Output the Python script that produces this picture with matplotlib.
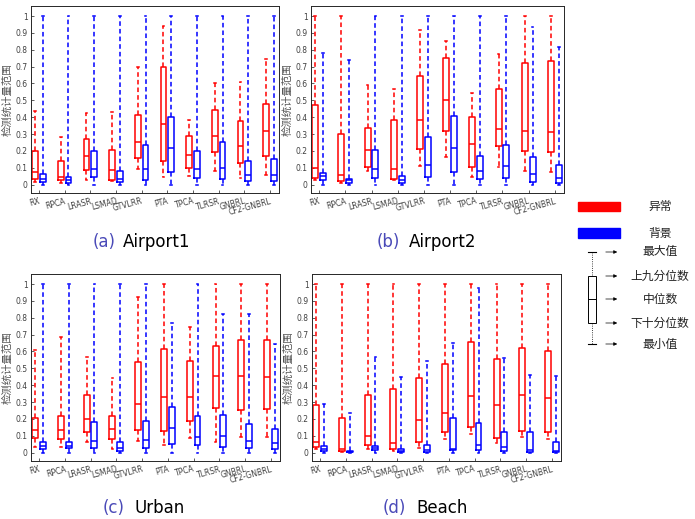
import matplotlib
matplotlib.use('Agg')
import matplotlib.pyplot as plt
import numpy as np

plt.rcParams['font.family'] = ['DejaVu Sans', 'Noto Sans CJK SC']

methods = ['RX', 'RPCA', 'LRASR', 'LSMAD', 'GTVLRR', 'PTA', 'TPCA', 'TLRSR', 'GNBRL', 'CF2-GNBRL']

# each row: [min, 10th pct, median, 90th pct, max] per method
airport1_anom = [[0.015, 0.035, 0.075, 0.20, 0.435], [0.01, 0.025, 0.045, 0.14, 0.28],
                 [0.025, 0.085, 0.17, 0.27, 0.425], [0.02, 0.03, 0.085, 0.205, 0.43],
                 [0.095, 0.155, 0.255, 0.415, 0.70], [0.045, 0.14, 0.36, 0.70, 0.94],
                 [0.05, 0.10, 0.175, 0.29, 0.385], [0.08, 0.195, 0.29, 0.445, 0.605],
                 [0.04, 0.13, 0.23, 0.375, 0.61], [0.055, 0.17, 0.32, 0.48, 0.745]]
airport1_bg = [[0, 0.015, 0.035, 0.065, 1], [0, 0.01, 0.03, 0.045, 1],
               [0, 0.045, 0.09, 0.20, 1], [0, 0.015, 0.035, 0.08, 1],
               [0, 0.03, 0.095, 0.235, 1], [0, 0.075, 0.215, 0.40, 1],
               [0, 0.04, 0.09, 0.20, 1], [0, 0.035, 0.10, 0.255, 1],
               [0, 0.02, 0.055, 0.14, 1], [0, 0.02, 0.055, 0.15, 1]]

airport2_anom = [[0.025, 0.04, 0.10, 0.47, 1], [0.01, 0.02, 0.055, 0.30, 1],
                 [0.08, 0.105, 0.205, 0.335, 0.59], [0.025, 0.035, 0.09, 0.385, 0.565],
                 [0.11, 0.21, 0.385, 0.645, 0.92], [0.165, 0.32, 0.50, 0.75, 0.85],
                 [0.045, 0.105, 0.24, 0.40, 0.545], [0.105, 0.23, 0.33, 0.57, 0.775],
                 [0.08, 0.20, 0.32, 0.72, 1], [0.075, 0.195, 0.315, 0.735, 1]]
airport2_bg = [[0, 0.025, 0.05, 0.07, 0.78], [0, 0.01, 0.025, 0.035, 0.74],
               [0, 0.04, 0.09, 0.205, 1], [0, 0.01, 0.03, 0.05, 1],
               [0, 0.045, 0.115, 0.28, 1], [0, 0.075, 0.22, 0.41, 1],
               [0, 0.035, 0.08, 0.17, 1], [0, 0.04, 0.11, 0.235, 1],
               [0, 0.015, 0.06, 0.165, 0.935], [0, 0.01, 0.04, 0.115, 0.815]]

urban_anom = [[0.035, 0.085, 0.135, 0.205, 0.61], [0.035, 0.08, 0.135, 0.22, 0.685],
              [0.06, 0.12, 0.20, 0.34, 0.57], [0.02, 0.08, 0.14, 0.22, 0.44],
              [0.07, 0.135, 0.29, 0.54, 0.925], [0.045, 0.13, 0.33, 0.615, 1],
              [0.085, 0.19, 0.33, 0.545, 0.745], [0.065, 0.265, 0.455, 0.635, 1],
              [0.09, 0.25, 0.455, 0.67, 1], [0.09, 0.26, 0.45, 0.67, 1]]
urban_bg = [[0, 0.02, 0.04, 0.065, 1], [0, 0.025, 0.04, 0.065, 1],
            [0, 0.03, 0.07, 0.18, 1], [0, 0.01, 0.025, 0.06, 1],
            [0, 0.03, 0.075, 0.19, 1], [0, 0.05, 0.145, 0.27, 0.77],
            [0, 0.045, 0.095, 0.22, 1], [0, 0.035, 0.10, 0.225, 0.825],
            [0, 0.03, 0.07, 0.17, 0.825], [0, 0.02, 0.055, 0.14, 0.645]]

beach_anom = [[0.02, 0.035, 0.065, 0.28, 1], [0.005, 0.01, 0.02, 0.205, 1],
              [0.02, 0.045, 0.10, 0.34, 1], [0.01, 0.02, 0.055, 0.38, 1],
              [0.03, 0.06, 0.195, 0.44, 1], [0.08, 0.12, 0.235, 0.525, 1],
              [0.11, 0.15, 0.335, 0.655, 1], [0.055, 0.085, 0.285, 0.555, 1],
              [0.09, 0.13, 0.34, 0.62, 1], [0.08, 0.12, 0.325, 0.60, 1]]
beach_bg = [[0, 0.01, 0.02, 0.04, 0.29], [0, 0.002, 0.005, 0.01, 0.235],
            [0, 0.015, 0.03, 0.04, 0.57], [0, 0.002, 0.01, 0.02, 0.45],
            [0, 0.005, 0.015, 0.045, 0.545], [0, 0.015, 0.02, 0.205, 0.65],
            [0, 0.015, 0.045, 0.175, 0.975], [0, 0.01, 0.035, 0.12, 0.56],
            [0, 0.005, 0.015, 0.12, 0.46], [0, 0.005, 0.01, 0.06, 0.455]]

panels = [('(a)', 'Airport1', airport1_anom, airport1_bg),
          ('(b)', 'Airport2', airport2_anom, airport2_bg),
          ('(c)', 'Urban', urban_anom, urban_bg),
          ('(d)', 'Beach', beach_anom, beach_bg)]

W, H = 695, 519
# axes boxes in pixels: left, top, right, bottom
boxes_px = [(31, 6, 279, 193), (311, 6, 564, 193), (31, 274, 280, 461), (312, 274, 561, 461)]
# caption: tag x, name x, y (pixels)
caption_px = [(93, 123, 242), (377, 409, 242), (103, 134, 508), (383, 416, 508)]

fig = plt.figure(figsize=(W / 100, H / 100), dpi=100)


def stats_of(rows):
    out = []
    for lo, q1, med, q3, hi in rows:
        out.append(dict(whislo=lo, q1=q1, med=med, q3=q3, whishi=hi, fliers=[]))
    return out


def draw_boxes(ax, rows, pos, color):
    ax.bxp(stats_of(rows), positions=pos, widths=0.23, showfliers=False,
           boxprops=dict(color=color, linewidth=1.1),
           medianprops=dict(color=color, linewidth=1.1),
           whiskerprops=dict(color=color, linewidth=1.1, linestyle=(0, (3, 2))),
           capprops=dict(color=color, linewidth=1.1), capwidths=0.07)


gray = '#404040'
cjk = ['Noto Sans CJK SC', 'DejaVu Sans']
for (tag, name, anom, bg), (l, t, r, b), (tx, nx, cy) in zip(panels, boxes_px, caption_px):
    ax = fig.add_axes([l / W, (H - b) / H, (r - l) / W, (b - t) / H])
    x = np.arange(len(methods))
    draw_boxes(ax, anom, x, '#ff0000')
    draw_boxes(ax, bg, x + 0.3, '#0000ff')
    ax.set_xlim(-0.16, 9.5)
    ax.set_ylim(-0.05, 1.06)
    yt = np.round(np.arange(0, 1.01, 0.1), 1)
    ax.set_yticks(yt)
    ax.set_yticklabels(['0'] + ['%.1f' % v for v in yt[1:-1]] + ['1'])
    ax.set_xticks(x + 0.15)
    ax.set_xticklabels(methods, rotation=15, ha='right', rotation_mode='anchor')
    ax.tick_params(direction='in', length=2.5, width=0.6, labelsize=5.5, colors=gray, pad=2.5)
    for s in ax.spines.values():
        s.set_color('#262626')
        s.set_linewidth(0.7)
    ax.set_ylabel('检测统计量范围', fontsize=7.5, color='#555555', family=cjk)
    ax.yaxis.set_label_coords(-0.075, 0.5)
    fig.text(tx / W, 1 - cy / H, tag, fontsize=12, color='#4a4ab8', ha='left', va='center')
    fig.text(nx / W, 1 - cy / H, name, fontsize=12, color='black', ha='left', va='center')

# legend panel on the right
lg = fig.add_axes([0, 0, 1, 1], facecolor='none')
lg.set_xlim(0, W)
lg.set_ylim(H, 0)
lg.axis('off')
lg.add_patch(plt.Rectangle((578, 202), 42, 9, color='#ff0000'))
lg.add_patch(plt.Rectangle((578, 228), 42, 10, color='#0000ff'))
lg.text(660, 206, '异常', ha='center', va='center', fontsize=8.5, family=cjk, color='#222222')
lg.text(660, 233, '背景', ha='center', va='center', fontsize=8.5, family=cjk, color='#222222')

stat_y = [252, 276, 299, 323, 344]
stat_names = ['最大值', '上九分位数', '中位数', '下十分位数', '最小值']
lg.plot([592, 592], [stat_y[0], stat_y[1]], color='k', lw=0.6, ls=':')
lg.plot([592, 592], [stat_y[3], stat_y[4]], color='k', lw=0.6, ls=':')
for yy in (stat_y[0], stat_y[4]):
    lg.plot([588, 596], [yy, yy], color='k', lw=0.8)
lg.add_patch(plt.Rectangle((588, stat_y[1]), 8, stat_y[3] - stat_y[1], fill=False, ec='k', lw=0.7))
lg.plot([588, 596], [stat_y[2], stat_y[2]], color='k', lw=0.7)
for yy, nm in zip(stat_y, stat_names):
    lg.annotate('', xy=(620, yy), xytext=(603, yy),
                arrowprops=dict(arrowstyle='-|>', lw=0.5, color='k', mutation_scale=5))
    lg.text(660, yy, nm, ha='center', va='center', fontsize=8.5, family=cjk, color='#222222')

fig.savefig('out.png', dpi=100)
